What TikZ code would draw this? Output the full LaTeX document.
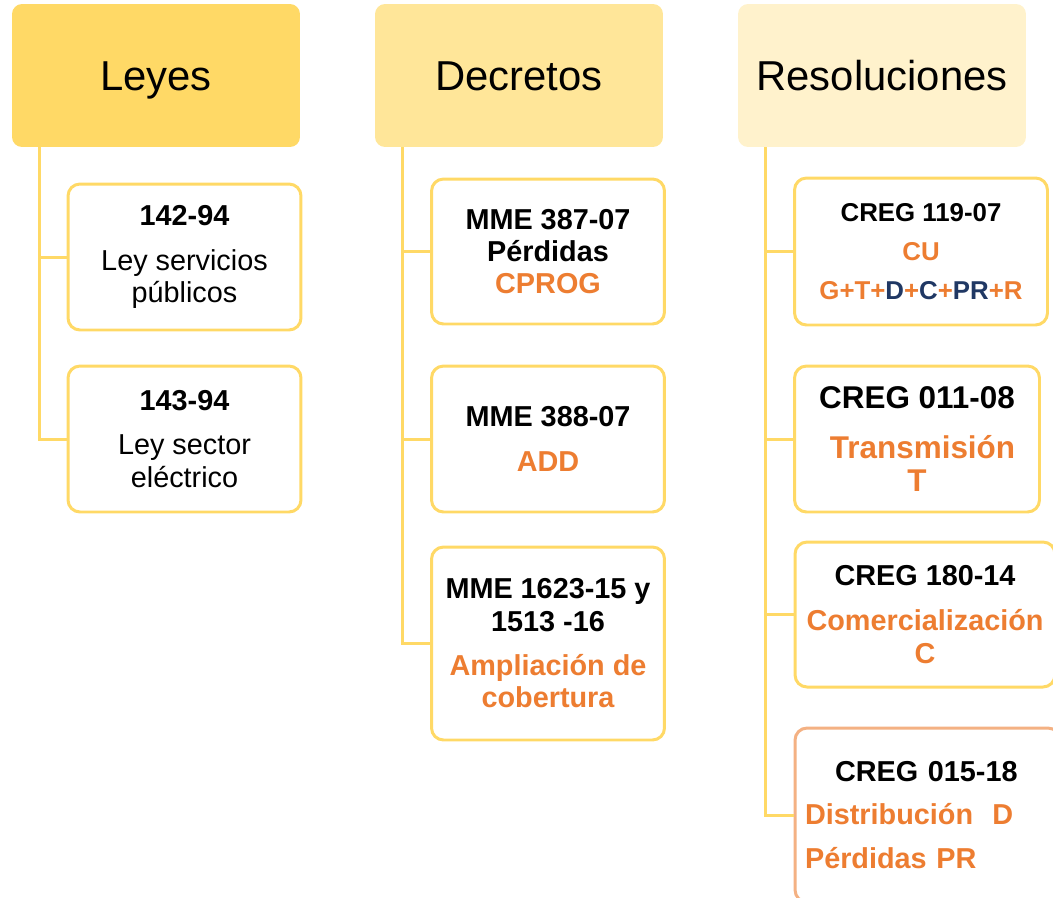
\documentclass[tikz,border=0pt]{standalone}
\usepackage{fontspec}
\setmainfont{Liberation Sans}

\definecolor{goldA}{HTML}{FFD966}
\definecolor{goldB}{HTML}{FFE699}
\definecolor{goldC}{HTML}{FFF2CC}
\definecolor{accent}{HTML}{ED7D31}
\definecolor{navytext}{HTML}{203864}
\definecolor{salmon}{HTML}{F4B183}

\begin{document}
\begin{tikzpicture}[
				x=0.02cm, y=-0.02cm,
				head/.style={rectangle, rounded corners=5.7pt, inner sep=0pt, minimum width=5.76cm, minimum height=2.86cm, text height=17.1pt, text depth=0pt, font=\fontsize{23.8}{28}\selectfont},
				item/.style={draw=goldA, line width=1.7pt, rectangle, rounded corners=6.8pt, fill=white, inner sep=0pt, align=center, font=\bfseries\fontsize{16.4}{18.4}\selectfont},
				conn/.style={draw=goldA, line width=1.7pt}
				]
				
				\clip (0,0) rectangle (1053,897);
				
				% Headers
				\node[head, fill=goldA] (leyes) at (156,75.5) {Leyes};
				\node[head, fill=goldB] (decretos) at (519,75.5) {Decretos};
				\node[head, fill=goldC] (resol) at (882,75.5) {Resoluciones};
				
				% Leyes
				\node[item, minimum width=4.66cm, minimum height=2.92cm] (ley142) at (184.5,257) {142-94\\[6.8pt]\textmd{Ley servicios}\\\textmd{públicos}};
				\node[item, minimum width=4.66cm, minimum height=2.92cm] (ley143) at (184.5,439) {143-94\\[6.8pt]\textmd{Ley sector}\\\textmd{eléctrico}};
				
				% Decretos
				\node[item, minimum width=4.66cm, minimum height=2.9cm] (mme387) at (548,251.5) {MME 387-07\\Pérdidas\\\textcolor{accent}{CPROG}};
				\node[item, minimum width=4.66cm, minimum height=2.92cm] (mme388) at (548,439) {MME 388-07\\[6.8pt]\textcolor{accent}{ADD}};
				\node[item, minimum width=4.66cm, minimum height=3.86cm] (mme1623) at (548,643.5) {MME 1623-15 y\\1513 -16\\[6.8pt]\textcolor{accent}{Ampliación de}\\\textcolor{accent}{cobertura}};
				
				% Resoluciones
				\node[item, minimum width=5.06cm, minimum height=2.94cm, font=\bfseries\fontsize{14.7}{22.4}\selectfont] (creg119) at (921,251.5) {CREG 119-07\\\textcolor{accent}{CU}\\\textcolor{accent}{G+T+}\textcolor{navytext}{D}\textcolor{accent}{+}\textcolor{navytext}{C}\textcolor{accent}{+}\textcolor{navytext}{PR}\textcolor{accent}{+R}};
				\node[item, minimum width=4.9cm, minimum height=2.92cm, font=\bfseries\fontsize{17.9}{18.7}\selectfont] (creg011) at (917,439) {CREG 011-08\\[10.2pt]\textcolor{accent}{\hspace*{0.35em}Transmisión}\\\textcolor{accent}{T}};
				\node[item, minimum width=5.2cm, minimum height=2.9cm] (creg180) at (925,614.5) {CREG 180-14\\[7.4pt]\textcolor{accent}{Comercialización}\\\textcolor{accent}{C}};
				\node[item, draw=salmon, align=left, text width=4.9cm, inner xsep=0.2cm, minimum height=3.48cm, font=\bfseries\fontsize{16.4}{25}\selectfont] (creg015) at (927.5,815) {\hspace*{0.6cm}CREG 015-18\\\textcolor{accent}{Distribución\ \ D}\\\textcolor{accent}{Pérdidas PR}};
				
				% Leyes branch
				\draw[conn] (leyes.south west) ++(28,0) |- (ley142.west);
				\draw[conn] (leyes.south west) ++(28,0) |- (ley143.west);
				
				% Decretos branch
				\draw[conn] (decretos.south west) ++(28,0) |- (mme387.west);
				\draw[conn] (decretos.south west) ++(28,0) |- (mme388.west);
				\draw[conn] (decretos.south west) ++(28,0) |- (mme1623.west);
				
				% Resoluciones branch
				\draw[conn] (resol.south west) ++(28,0) |- (creg119.west);
				\draw[conn] (resol.south west) ++(28,0) |- (creg011.west);
				\draw[conn] (resol.south west) ++(28,0) |- (creg180.west);
				\draw[conn] (resol.south west) ++(28,0) |- (creg015.west);
				
			\end{tikzpicture}
\end{document}
